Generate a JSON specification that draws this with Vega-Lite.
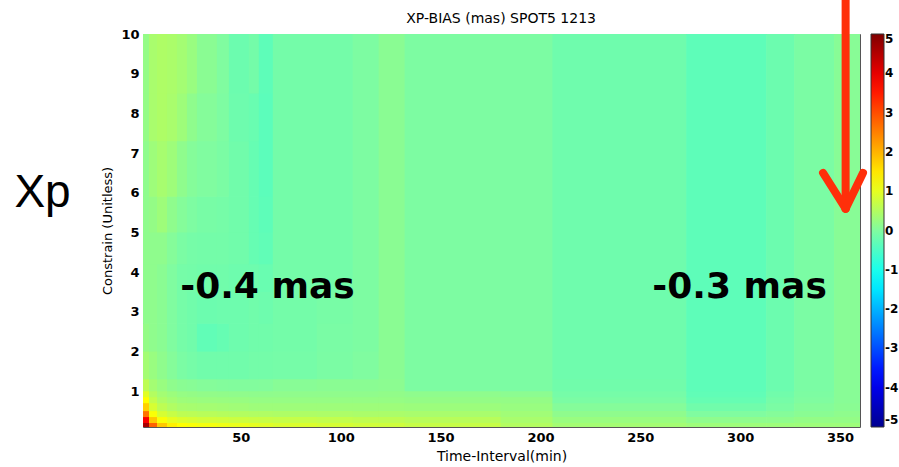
{
"$schema":"https://vega.github.io/schema/vega-lite/v6.json",
"width":717,"height":393,
"autosize":"none",
"padding":{"left":143,"top":34,"right":39,"bottom":40},
"background":"white",
"config":{"view":{"stroke":"#555","strokeWidth":1},"font":"DejaVu Sans"},
"datasets":{
"cells":[
{"x":1,"x2":4,"y":0.1,"y2":0.2,"v":4.6},{"x":1,"x2":4,"y":0.2,"y2":0.35,"v":3.8},{"x":1,"x2":4,"y":0.35,"y2":0.5,"v":2.6},{"x":1,"x2":4,"y":0.5,"y2":0.7,"v":1.7},{"x":1,"x2":4,"y":0.7,"y2":0.85,"v":1.25},{"x":1,"x2":4,"y":0.85,"y2":1.0,"v":0.95},{"x":1,"x2":4,"y":1.0,"y2":1.3,"v":0.6},{"x":1,"x2":4,"y":1.3,"y2":2.0,"v":0.35},{"x":1,"x2":4,"y":2.0,"y2":2.7,"v":0.2},{"x":1,"x2":4,"y":2.7,"y2":3.5,"v":0.15},{"x":1,"x2":4,"y":3.5,"y2":4.2,"v":0.15},{"x":1,"x2":4,"y":4.2,"y2":5.0,"v":0.15},{"x":1,"x2":4,"y":5.0,"y2":5.9,"v":0.15},{"x":1,"x2":4,"y":5.9,"y2":7.3,"v":0.15},{"x":1,"x2":4,"y":7.3,"y2":8.5,"v":0.2},{"x":1,"x2":4,"y":8.5,"y2":10,"v":0.2},
{"x":4,"x2":8,"y":0.1,"y2":0.2,"v":2.8},{"x":4,"x2":8,"y":0.2,"y2":0.35,"v":1.8},{"x":4,"x2":8,"y":0.35,"y2":0.5,"v":1.2},{"x":4,"x2":8,"y":0.5,"y2":0.7,"v":0.85},{"x":4,"x2":8,"y":0.7,"y2":0.85,"v":0.65},{"x":4,"x2":8,"y":0.85,"y2":1.0,"v":0.5},{"x":4,"x2":8,"y":1.0,"y2":1.3,"v":0.35},{"x":4,"x2":8,"y":1.3,"y2":2.0,"v":0.25},{"x":4,"x2":8,"y":2.0,"y2":2.7,"v":0.15},{"x":4,"x2":8,"y":2.7,"y2":3.5,"v":0.15},{"x":4,"x2":8,"y":3.5,"y2":4.2,"v":0.15},{"x":4,"x2":8,"y":4.2,"y2":5.0,"v":0.15},{"x":4,"x2":8,"y":5.0,"y2":5.9,"v":0.2},{"x":4,"x2":8,"y":5.9,"y2":7.3,"v":0.3},{"x":4,"x2":8,"y":7.3,"y2":8.5,"v":0.4},{"x":4,"x2":8,"y":8.5,"y2":10,"v":0.4},
{"x":8,"x2":13,"y":0.1,"y2":0.2,"v":1.8},{"x":8,"x2":13,"y":0.2,"y2":0.35,"v":1.2},{"x":8,"x2":13,"y":0.35,"y2":0.5,"v":0.85},{"x":8,"x2":13,"y":0.5,"y2":0.7,"v":0.6},{"x":8,"x2":13,"y":0.7,"y2":0.85,"v":0.45},{"x":8,"x2":13,"y":0.85,"y2":1.0,"v":0.35},{"x":8,"x2":13,"y":1.0,"y2":1.3,"v":0.25},{"x":8,"x2":13,"y":1.3,"y2":2.0,"v":0.15},{"x":8,"x2":13,"y":2.0,"y2":2.7,"v":0.1},{"x":8,"x2":13,"y":2.7,"y2":3.5,"v":0.1},{"x":8,"x2":13,"y":3.5,"y2":4.2,"v":0.1},{"x":8,"x2":13,"y":4.2,"y2":5.0,"v":0.15},{"x":8,"x2":13,"y":5.0,"y2":5.9,"v":0.3},{"x":8,"x2":13,"y":5.9,"y2":7.3,"v":0.38},{"x":8,"x2":13,"y":7.3,"y2":8.5,"v":0.45},{"x":8,"x2":13,"y":8.5,"y2":10,"v":0.45},
{"x":13,"x2":18,"y":0.1,"y2":0.2,"v":1.4},{"x":13,"x2":18,"y":0.2,"y2":0.35,"v":1.0},{"x":13,"x2":18,"y":0.35,"y2":0.5,"v":0.7},{"x":13,"x2":18,"y":0.5,"y2":0.7,"v":0.48},{"x":13,"x2":18,"y":0.7,"y2":0.85,"v":0.36},{"x":13,"x2":18,"y":0.85,"y2":1.0,"v":0.28},{"x":13,"x2":18,"y":1.0,"y2":1.3,"v":0.15},{"x":13,"x2":18,"y":1.3,"y2":2.0,"v":0.05},{"x":13,"x2":18,"y":2.0,"y2":2.7,"v":0.0},{"x":13,"x2":18,"y":2.7,"y2":3.5,"v":0.0},{"x":13,"x2":18,"y":3.5,"y2":4.2,"v":0.0},{"x":13,"x2":18,"y":4.2,"y2":5.0,"v":0.05},{"x":13,"x2":18,"y":5.0,"y2":5.9,"v":0.15},{"x":13,"x2":18,"y":5.9,"y2":7.3,"v":0.3},{"x":13,"x2":18,"y":7.3,"y2":8.5,"v":0.4},{"x":13,"x2":18,"y":8.5,"y2":10,"v":0.42},
{"x":18,"x2":23,"y":0.1,"y2":0.2,"v":1.25},{"x":18,"x2":23,"y":0.2,"y2":0.35,"v":0.9},{"x":18,"x2":23,"y":0.35,"y2":0.5,"v":0.6},{"x":18,"x2":23,"y":0.5,"y2":0.7,"v":0.4},{"x":18,"x2":23,"y":0.7,"y2":0.85,"v":0.3},{"x":18,"x2":23,"y":0.85,"y2":1.0,"v":0.22},{"x":18,"x2":23,"y":1.0,"y2":1.3,"v":0.1},{"x":18,"x2":23,"y":1.3,"y2":2.0,"v":-0.05},{"x":18,"x2":23,"y":2.0,"y2":2.7,"v":-0.1},{"x":18,"x2":23,"y":2.7,"y2":3.5,"v":-0.1},{"x":18,"x2":23,"y":3.5,"y2":4.2,"v":-0.1},{"x":18,"x2":23,"y":4.2,"y2":5.0,"v":-0.05},{"x":18,"x2":23,"y":5.0,"y2":5.9,"v":0.05},{"x":18,"x2":23,"y":5.9,"y2":7.3,"v":0.15},{"x":18,"x2":23,"y":7.3,"y2":8.5,"v":0.3},{"x":18,"x2":23,"y":8.5,"y2":10,"v":0.35},
{"x":23,"x2":28,"y":0.1,"y2":0.2,"v":1.2},{"x":23,"x2":28,"y":0.2,"y2":0.35,"v":0.85},{"x":23,"x2":28,"y":0.35,"y2":0.5,"v":0.58},{"x":23,"x2":28,"y":0.5,"y2":0.7,"v":0.38},{"x":23,"x2":28,"y":0.7,"y2":0.85,"v":0.28},{"x":23,"x2":28,"y":0.85,"y2":1.0,"v":0.2},{"x":23,"x2":28,"y":1.0,"y2":1.3,"v":0.08},{"x":23,"x2":28,"y":1.3,"y2":2.0,"v":-0.1},{"x":23,"x2":28,"y":2.0,"y2":2.7,"v":-0.15},{"x":23,"x2":28,"y":2.7,"y2":3.5,"v":-0.15},{"x":23,"x2":28,"y":3.5,"y2":4.2,"v":-0.12},{"x":23,"x2":28,"y":4.2,"y2":5.0,"v":-0.1},{"x":23,"x2":28,"y":5.0,"y2":5.9,"v":-0.02},{"x":23,"x2":28,"y":5.9,"y2":7.3,"v":0.05},{"x":23,"x2":28,"y":7.3,"y2":8.5,"v":0.15},{"x":23,"x2":28,"y":8.5,"y2":10,"v":0.25},
{"x":28,"x2":38,"y":0.1,"y2":0.2,"v":1.15},{"x":28,"x2":38,"y":0.2,"y2":0.35,"v":0.8},{"x":28,"x2":38,"y":0.35,"y2":0.5,"v":0.55},{"x":28,"x2":38,"y":0.5,"y2":0.7,"v":0.36},{"x":28,"x2":38,"y":0.7,"y2":0.85,"v":0.26},{"x":28,"x2":38,"y":0.85,"y2":1.0,"v":0.18},{"x":28,"x2":38,"y":1.0,"y2":1.3,"v":0.05},{"x":28,"x2":38,"y":1.3,"y2":2.0,"v":-0.15},{"x":28,"x2":38,"y":2.0,"y2":2.7,"v":-0.3},{"x":28,"x2":38,"y":2.7,"y2":3.5,"v":-0.2},{"x":28,"x2":38,"y":3.5,"y2":4.2,"v":-0.15},{"x":28,"x2":38,"y":4.2,"y2":5.0,"v":-0.12},{"x":28,"x2":38,"y":5.0,"y2":5.9,"v":-0.08},{"x":28,"x2":38,"y":5.9,"y2":7.3,"v":0.0},{"x":28,"x2":38,"y":7.3,"y2":8.5,"v":0.05},{"x":28,"x2":38,"y":8.5,"y2":10,"v":0.1},
{"x":38,"x2":44,"y":0.1,"y2":0.2,"v":1.1},{"x":38,"x2":44,"y":0.2,"y2":0.35,"v":0.78},{"x":38,"x2":44,"y":0.35,"y2":0.5,"v":0.52},{"x":38,"x2":44,"y":0.5,"y2":0.7,"v":0.34},{"x":38,"x2":44,"y":0.7,"y2":0.85,"v":0.25},{"x":38,"x2":44,"y":0.85,"y2":1.0,"v":0.17},{"x":38,"x2":44,"y":1.0,"y2":1.3,"v":0.03},{"x":38,"x2":44,"y":1.3,"y2":2.0,"v":-0.15},{"x":38,"x2":44,"y":2.0,"y2":2.7,"v":-0.25},{"x":38,"x2":44,"y":2.7,"y2":3.5,"v":-0.18},{"x":38,"x2":44,"y":3.5,"y2":4.2,"v":-0.15},{"x":38,"x2":44,"y":4.2,"y2":5.0,"v":-0.12},{"x":38,"x2":44,"y":5.0,"y2":5.9,"v":-0.1},{"x":38,"x2":44,"y":5.9,"y2":7.3,"v":-0.05},{"x":38,"x2":44,"y":7.3,"y2":8.5,"v":-0.02},{"x":38,"x2":44,"y":8.5,"y2":10,"v":0.0},
{"x":44,"x2":54,"y":0.1,"y2":0.2,"v":1.05},{"x":44,"x2":54,"y":0.2,"y2":0.35,"v":0.75},{"x":44,"x2":54,"y":0.35,"y2":0.5,"v":0.5},{"x":44,"x2":54,"y":0.5,"y2":0.7,"v":0.32},{"x":44,"x2":54,"y":0.7,"y2":0.85,"v":0.24},{"x":44,"x2":54,"y":0.85,"y2":1.0,"v":0.16},{"x":44,"x2":54,"y":1.0,"y2":1.3,"v":0.02},{"x":44,"x2":54,"y":1.3,"y2":2.0,"v":-0.15},{"x":44,"x2":54,"y":2.0,"y2":2.7,"v":-0.18},{"x":44,"x2":54,"y":2.7,"y2":3.5,"v":-0.18},{"x":44,"x2":54,"y":3.5,"y2":4.2,"v":-0.18},{"x":44,"x2":54,"y":4.2,"y2":5.0,"v":-0.15},{"x":44,"x2":54,"y":5.0,"y2":5.9,"v":-0.15},{"x":44,"x2":54,"y":5.9,"y2":7.3,"v":-0.15},{"x":44,"x2":54,"y":7.3,"y2":8.5,"v":-0.18},{"x":44,"x2":54,"y":8.5,"y2":10,"v":-0.2},
{"x":54,"x2":59,"y":0.1,"y2":0.2,"v":1.0},{"x":54,"x2":59,"y":0.2,"y2":0.35,"v":0.72},{"x":54,"x2":59,"y":0.35,"y2":0.5,"v":0.48},{"x":54,"x2":59,"y":0.5,"y2":0.7,"v":0.3},{"x":54,"x2":59,"y":0.7,"y2":0.85,"v":0.22},{"x":54,"x2":59,"y":0.85,"y2":1.0,"v":0.15},{"x":54,"x2":59,"y":1.0,"y2":1.3,"v":0.02},{"x":54,"x2":59,"y":1.3,"y2":2.0,"v":-0.12},{"x":54,"x2":59,"y":2.0,"y2":2.7,"v":-0.15},{"x":54,"x2":59,"y":2.7,"y2":3.5,"v":-0.15},{"x":54,"x2":59,"y":3.5,"y2":4.2,"v":-0.18},{"x":54,"x2":59,"y":4.2,"y2":5.0,"v":-0.25},{"x":54,"x2":59,"y":5.0,"y2":5.9,"v":-0.25},{"x":54,"x2":59,"y":5.9,"y2":7.3,"v":-0.25},{"x":54,"x2":59,"y":7.3,"y2":8.5,"v":-0.22},{"x":54,"x2":59,"y":8.5,"y2":10,"v":-0.12},
{"x":59,"x2":66,"y":0.1,"y2":0.2,"v":0.95},{"x":59,"x2":66,"y":0.2,"y2":0.35,"v":0.7},{"x":59,"x2":66,"y":0.35,"y2":0.5,"v":0.47},{"x":59,"x2":66,"y":0.5,"y2":0.7,"v":0.3},{"x":59,"x2":66,"y":0.7,"y2":0.85,"v":0.22},{"x":59,"x2":66,"y":0.85,"y2":1.0,"v":0.15},{"x":59,"x2":66,"y":1.0,"y2":1.3,"v":0.03},{"x":59,"x2":66,"y":1.3,"y2":2.0,"v":-0.12},{"x":59,"x2":66,"y":2.0,"y2":2.7,"v":-0.15},{"x":59,"x2":66,"y":2.7,"y2":3.5,"v":-0.18},{"x":59,"x2":66,"y":3.5,"y2":4.2,"v":-0.22},{"x":59,"x2":66,"y":4.2,"y2":5.0,"v":-0.3},{"x":59,"x2":66,"y":5.0,"y2":5.9,"v":-0.33},{"x":59,"x2":66,"y":5.9,"y2":7.3,"v":-0.35},{"x":59,"x2":66,"y":7.3,"y2":8.5,"v":-0.35},{"x":59,"x2":66,"y":8.5,"y2":10,"v":-0.33},
{"x":66,"x2":88,"y":0.1,"y2":0.2,"v":0.9},{"x":66,"x2":88,"y":0.2,"y2":0.35,"v":0.68},{"x":66,"x2":88,"y":0.35,"y2":0.5,"v":0.45},{"x":66,"x2":88,"y":0.5,"y2":0.7,"v":0.3},{"x":66,"x2":88,"y":0.7,"y2":0.85,"v":0.22},{"x":66,"x2":88,"y":0.85,"y2":1.0,"v":0.16},{"x":66,"x2":88,"y":1.0,"y2":1.3,"v":0.08},{"x":66,"x2":88,"y":1.3,"y2":2.0,"v":-0.1},{"x":66,"x2":88,"y":2.0,"y2":10,"v":-0.12},
{"x":88,"x2":106,"y":0.1,"y2":0.2,"v":0.85},{"x":88,"x2":106,"y":0.2,"y2":0.35,"v":0.65},{"x":88,"x2":106,"y":0.35,"y2":0.5,"v":0.44},{"x":88,"x2":106,"y":0.5,"y2":0.7,"v":0.3},{"x":88,"x2":106,"y":0.7,"y2":0.85,"v":0.22},{"x":88,"x2":106,"y":0.85,"y2":1.0,"v":0.16},{"x":88,"x2":106,"y":1.0,"y2":1.3,"v":0.1},{"x":88,"x2":106,"y":1.3,"y2":2.0,"v":-0.05},{"x":88,"x2":106,"y":2.0,"y2":2.7,"v":-0.06},{"x":88,"x2":106,"y":2.7,"y2":3.5,"v":-0.08},{"x":88,"x2":106,"y":3.5,"y2":10,"v":-0.12},
{"x":106,"x2":119,"y":0.1,"y2":0.2,"v":0.8},{"x":106,"x2":119,"y":0.2,"y2":0.35,"v":0.62},{"x":106,"x2":119,"y":0.35,"y2":0.5,"v":0.42},{"x":106,"x2":119,"y":0.5,"y2":0.7,"v":0.3},{"x":106,"x2":119,"y":0.7,"y2":0.85,"v":0.22},{"x":106,"x2":119,"y":0.85,"y2":1.0,"v":0.16},{"x":106,"x2":119,"y":1.0,"y2":1.3,"v":0.1},{"x":106,"x2":119,"y":1.3,"y2":2.0,"v":0.0},{"x":106,"x2":119,"y":2.0,"y2":10,"v":-0.03},
{"x":119,"x2":132,"y":0.1,"y2":0.2,"v":0.78},{"x":119,"x2":132,"y":0.2,"y2":0.35,"v":0.6},{"x":119,"x2":132,"y":0.35,"y2":0.5,"v":0.42},{"x":119,"x2":132,"y":0.5,"y2":0.7,"v":0.3},{"x":119,"x2":132,"y":0.7,"y2":0.85,"v":0.22},{"x":119,"x2":132,"y":0.85,"y2":1.0,"v":0.18},{"x":119,"x2":132,"y":1.0,"y2":1.3,"v":0.12},{"x":119,"x2":132,"y":1.3,"y2":10,"v":0.1},
{"x":132,"x2":180,"y":0.1,"y2":0.2,"v":0.7},{"x":132,"x2":180,"y":0.2,"y2":0.35,"v":0.55},{"x":132,"x2":180,"y":0.35,"y2":0.5,"v":0.4},{"x":132,"x2":180,"y":0.5,"y2":0.7,"v":0.28},{"x":132,"x2":180,"y":0.7,"y2":0.85,"v":0.2},{"x":132,"x2":180,"y":0.85,"y2":1.0,"v":0.15},{"x":132,"x2":180,"y":1.0,"y2":10,"v":-0.03},
{"x":180,"x2":206,"y":0.1,"y2":0.2,"v":0.5},{"x":180,"x2":206,"y":0.2,"y2":0.35,"v":0.4},{"x":180,"x2":206,"y":0.35,"y2":0.5,"v":0.32},{"x":180,"x2":206,"y":0.5,"y2":0.7,"v":0.25},{"x":180,"x2":206,"y":0.7,"y2":0.85,"v":0.2},{"x":180,"x2":206,"y":0.85,"y2":1.0,"v":0.12},{"x":180,"x2":206,"y":1.0,"y2":10,"v":-0.04},
{"x":206,"x2":273,"y":0.1,"y2":0.2,"v":0.35},{"x":206,"x2":273,"y":0.2,"y2":0.35,"v":0.25},{"x":206,"x2":273,"y":0.35,"y2":0.5,"v":0.15},{"x":206,"x2":273,"y":0.5,"y2":0.7,"v":0.05},{"x":206,"x2":273,"y":0.7,"y2":0.85,"v":-0.05},{"x":206,"x2":273,"y":0.85,"y2":1.0,"v":-0.1},{"x":206,"x2":273,"y":1.0,"y2":1.3,"v":-0.15},{"x":206,"x2":273,"y":1.3,"y2":10,"v":-0.17},
{"x":273,"x2":313,"y":0.1,"y2":0.2,"v":0.3},{"x":273,"x2":313,"y":0.2,"y2":0.35,"v":0.15},{"x":273,"x2":313,"y":0.35,"y2":0.5,"v":0.0},{"x":273,"x2":313,"y":0.5,"y2":0.7,"v":-0.15},{"x":273,"x2":313,"y":0.7,"y2":0.85,"v":-0.25},{"x":273,"x2":313,"y":0.85,"y2":1.0,"v":-0.3},{"x":273,"x2":313,"y":1.0,"y2":10,"v":-0.33},
{"x":313,"x2":327,"y":0.1,"y2":0.2,"v":0.3},{"x":313,"x2":327,"y":0.2,"y2":0.35,"v":0.15},{"x":313,"x2":327,"y":0.35,"y2":0.5,"v":0.05},{"x":313,"x2":327,"y":0.5,"y2":0.7,"v":-0.05},{"x":313,"x2":327,"y":0.7,"y2":0.85,"v":-0.1},{"x":313,"x2":327,"y":0.85,"y2":1.0,"v":-0.15},{"x":313,"x2":327,"y":1.0,"y2":10,"v":-0.2},
{"x":327,"x2":347,"y":0.1,"y2":0.2,"v":0.3},{"x":327,"x2":347,"y":0.2,"y2":0.35,"v":0.2},{"x":327,"x2":347,"y":0.35,"y2":0.5,"v":0.1},{"x":327,"x2":347,"y":0.5,"y2":0.7,"v":0.05},{"x":327,"x2":347,"y":0.7,"y2":0.85,"v":0.0},{"x":327,"x2":347,"y":0.85,"y2":1.0,"v":-0.03},{"x":327,"x2":347,"y":1.0,"y2":10,"v":-0.05},
{"x":347,"x2":360,"y":0.1,"y2":0.2,"v":0.3},{"x":347,"x2":360,"y":0.2,"y2":0.35,"v":0.2},{"x":347,"x2":360,"y":0.35,"y2":0.5,"v":0.15},{"x":347,"x2":360,"y":0.5,"y2":0.7,"v":0.1},{"x":347,"x2":360,"y":0.7,"y2":0.85,"v":0.08},{"x":347,"x2":360,"y":0.85,"y2":10,"v":0.08}
],
"ttl":[{"x":180.3,"y":10.28,"t":"XP-BIAS (mas)  SPOT5 1213"}],
"notes":[{"x":63.3,"y":3.35,"t":"-0.4 mas"},{"x":299.7,"y":3.35,"t":"-0.3 mas"}],
"side":[{"x":-49.3,"y":5.64,"t":"Xp"}],
"arrow":[{"x":352.8,"y":11,"x2":352.8,"y2":5.6},{"x":341.5,"y":6.5,"x2":352.8,"y2":5.6},{"x":361.5,"y":6.5,"x2":352.8,"y2":5.6}]
},
"encoding":{
"x":{"field":"x","type":"quantitative","scale":{"domain":[1,360],"nice":false,"zero":false},
 "axis":{"values":[50,100,150,200,250,300,350],"title":"Time-Interval(min)","titleFont":"DejaVu Sans","titleFontSize":14,"titleFontWeight":"normal","titleColor":"black","titlePadding":5,"labelFont":"DejaVu Sans","labelFontSize":13,"labelFontWeight":"bold","labelColor":"black","labelPadding":4,"ticks":false,"domain":false,"grid":false,"labelFlush":false}},
"y":{"field":"y","type":"quantitative","scale":{"domain":[0.1,10],"nice":false,"zero":false},
 "axis":{"values":[1,2,3,4,5,6,7,8,9,10],"title":"Constrain (Unitless)","titleFont":"DejaVu Sans","titleFontSize":13,"titleFontWeight":"normal","titleColor":"black","titlePadding":6,"labelFont":"DejaVu Sans","labelFontSize":13,"labelFontWeight":"bold","labelColor":"black","labelPadding":4,"ticks":false,"domain":false,"grid":false,"labelFlush":false}}
},
"layer":[
{"data":{"name":"cells"},
 "mark":{"type":"rect","x2Offset":0.7,"y2Offset":-0.7,"clip":true},
 "encoding":{
  "x2":{"field":"x2"},"y2":{"field":"y2"},
  "color":{"field":"v","type":"quantitative",
   "scale":{"type":"linear","domain":[-5,-3.75,-1.25,0,1.25,3.75,5],"range":["#000090","#0000ff","#00ffff","#80fca0","#ffff00","#ff0000","#800000"],"interpolate":"rgb","clamp":true},
   "legend":{"type":"gradient","orient":"none","legendX":728,"legendY":0,"direction":"vertical","gradientLength":393,"gradientThickness":13,"title":null,"values":[-5,-4,-3,-2,-1,0,1,2,3,4,5],"labelExpr":"replace(datum.label, '\u2212', '-')","labelFont":"DejaVu Sans","labelFontSize":12,"labelFontWeight":"bold","labelColor":"black","labelOffset":1,"labelOverlap":false,"gradientStrokeColor":"#333","gradientStrokeWidth":1}}
 }},
{"data":{"name":"ttl"},
 "mark":{"type":"text","font":"DejaVu Sans","fontSize":14,"fontWeight":"normal","color":"black","align":"center","baseline":"alphabetic"},
 "encoding":{"text":{"field":"t"}}},
{"data":{"name":"notes"},
 "mark":{"type":"text","font":"DejaVu Sans","fontSize":36,"fontWeight":"bold","color":"black","align":"center","baseline":"alphabetic"},
 "encoding":{"text":{"field":"t"}}},
{"data":{"name":"side"},
 "mark":{"type":"text","font":"Liberation Sans","fontSize":46,"fontWeight":"normal","color":"black","align":"center","baseline":"alphabetic"},
 "encoding":{"text":{"field":"t"}}},
{"data":{"name":"arrow"},
 "mark":{"type":"rule","color":"#ff2f0a","strokeWidth":8,"strokeCap":"round"},
 "encoding":{"x2":{"field":"x2"},"y2":{"field":"y2"}}}
]
}
